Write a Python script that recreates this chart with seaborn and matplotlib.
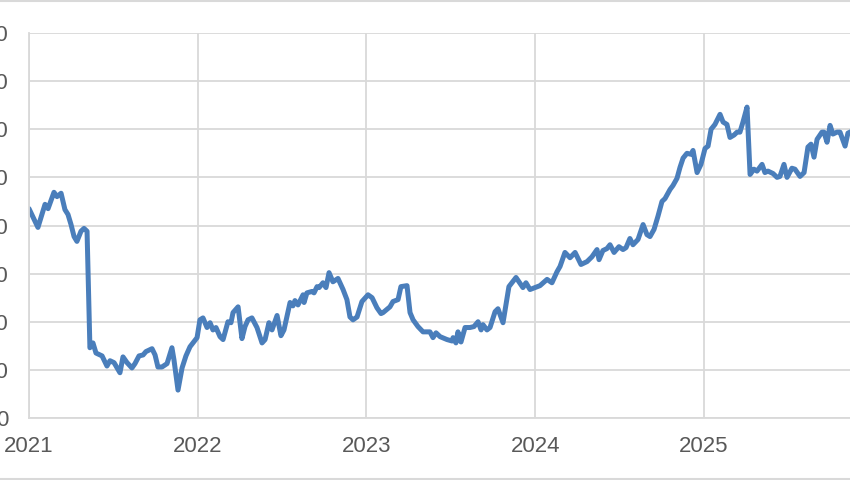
import pandas as pd
import matplotlib.pyplot as plt
import seaborn as sns
from matplotlib.patches import Rectangle

# Dados (ano decimal, valor)
anos = [
    2021.000, 2021.053, 2021.095, 2021.113, 2021.148, 2021.166, 2021.190, 2021.213, 2021.231, 2021.249,
    2021.267, 2021.284, 2021.308, 2021.326, 2021.344, 2021.361, 2021.379, 2021.397, 2021.433, 2021.462,
    2021.480, 2021.504, 2021.539, 2021.557, 2021.581, 2021.610, 2021.628, 2021.652, 2021.676, 2021.693,
    2021.729, 2021.747, 2021.764, 2021.788, 2021.818, 2021.847, 2021.859, 2021.883, 2021.907, 2021.930,
    2021.954, 2021.972, 2021.996, 2022.013, 2022.031, 2022.055, 2022.073, 2022.090, 2022.108, 2022.132,
    2022.150, 2022.179, 2022.197, 2022.209, 2022.239, 2022.262, 2022.280, 2022.298, 2022.321, 2022.351,
    2022.381, 2022.399, 2022.422, 2022.440, 2022.470, 2022.493, 2022.511, 2022.547, 2022.564, 2022.576,
    2022.594, 2022.624, 2022.630, 2022.647, 2022.677, 2022.689, 2022.707, 2022.719, 2022.742, 2022.760,
    2022.778, 2022.801, 2022.831, 2022.861, 2022.884, 2022.902, 2022.920, 2022.944, 2022.973, 2023.009,
    2023.033, 2023.062, 2023.086, 2023.098, 2023.139, 2023.157, 2023.187, 2023.204, 2023.240, 2023.258,
    2023.276, 2023.305, 2023.335, 2023.376, 2023.394, 2023.412, 2023.436, 2023.477, 2023.507, 2023.513,
    2023.530, 2023.542, 2023.560, 2023.584, 2023.613, 2023.637, 2023.661, 2023.679, 2023.690, 2023.714,
    2023.732, 2023.762, 2023.779, 2023.809, 2023.844, 2023.886, 2023.927, 2023.945, 2023.969, 2024.028,
    2024.070, 2024.099, 2024.129, 2024.147, 2024.176, 2024.206, 2024.236, 2024.271, 2024.307, 2024.336,
    2024.366, 2024.378, 2024.401, 2024.425, 2024.443, 2024.467, 2024.496, 2024.520, 2024.538, 2024.561,
    2024.579, 2024.609, 2024.639, 2024.662, 2024.680, 2024.704, 2024.727, 2024.751, 2024.769, 2024.799,
    2024.816, 2024.840, 2024.858, 2024.876, 2024.899, 2024.923, 2024.935, 2024.959, 2024.982, 2025.006,
    2025.024, 2025.042, 2025.065, 2025.095, 2025.113, 2025.136, 2025.154, 2025.178, 2025.196, 2025.213,
    2025.231, 2025.255, 2025.273, 2025.296, 2025.314, 2025.344, 2025.361, 2025.379, 2025.409, 2025.433,
    2025.450, 2025.474, 2025.492, 2025.521, 2025.539, 2025.569, 2025.593, 2025.616, 2025.634, 2025.652,
    2025.670, 2025.699, 2025.711, 2025.729, 2025.747, 2025.764, 2025.788, 2025.806, 2025.836, 2025.853,
    2025.877,
]
valores = [
    43.5, 39.6, 44.4, 43.5, 46.9, 46.0, 46.7, 43.3, 42.3, 40.2,
    37.7, 36.7, 38.8, 39.4, 38.8, 14.6, 15.6, 13.5, 12.9, 10.8,
    11.9, 11.5, 9.4, 12.7, 11.5, 10.4, 11.3, 12.9, 13.1, 13.8,
    14.4, 13.1, 10.6, 10.6, 11.3, 14.6, 12.1, 5.8, 10.4, 12.9,
    14.8, 15.6, 16.7, 20.4, 20.8, 18.8, 19.8, 18.3, 18.8, 16.9,
    16.3, 20.0, 19.8, 21.9, 23.1, 16.5, 19.0, 20.4, 20.8, 18.8,
    15.6, 16.3, 19.8, 18.3, 21.3, 17.1, 18.3, 24.0, 23.3, 24.4,
    23.5, 25.6, 24.0, 26.0, 26.3, 26.0, 27.3, 27.1, 28.1, 27.1,
    30.2, 28.3, 29.0, 26.7, 24.6, 21.0, 20.4, 21.0, 24.2, 25.6,
    25.0, 22.9, 21.7, 21.9, 23.1, 24.2, 24.6, 27.3, 27.5, 21.9,
    20.4, 19.0, 17.9, 17.9, 16.7, 17.7, 16.9, 16.3, 16.0, 16.7,
    15.6, 17.9, 15.8, 18.8, 18.8, 19.0, 20.0, 18.3, 19.4, 18.3,
    18.8, 22.1, 22.7, 19.8, 27.3, 29.2, 27.1, 28.1, 26.7, 27.5,
    28.8, 28.1, 30.4, 31.5, 34.4, 33.3, 34.4, 31.9, 32.5, 33.5,
    35.0, 32.9, 34.8, 35.2, 36.0, 34.4, 35.6, 35.0, 35.4, 37.3,
    36.0, 37.1, 40.2, 38.1, 37.7, 39.2, 41.9, 45.0, 45.6, 47.5,
    48.3, 49.8, 52.1, 54.0, 55.0, 54.8, 55.6, 51.0, 52.7, 56.0,
    56.5, 60.0, 61.0, 63.1, 61.5, 61.0, 58.3, 58.8, 59.4, 59.4,
    61.5, 64.6, 50.6, 51.7, 51.3, 52.7, 51.0, 51.3, 50.8, 50.0,
    50.2, 52.7, 50.0, 51.9, 51.7, 50.2, 51.0, 56.3, 56.9, 54.2,
    57.9, 59.4, 59.4, 57.3, 60.8, 59.0, 59.4, 59.4, 56.5, 59.2,
    59.6,
]
rotulos_x = [2021, 2022, 2023, 2024, 2025]
ticks_y = [0, 10, 20, 30, 40, 50, 60, 70, 80]

df = pd.DataFrame({'Ano': anos, 'Valor': valores})

# Configurações do gráfico
sns.set_theme(style='whitegrid')
plt.rcParams['font.family'] = ['Liberation Sans', 'DejaVu Sans']

cinza = '#d9d9d9'
fig = plt.figure(figsize=(8.5, 4.8), dpi=100)
ax = fig.add_axes([29 / 850, 62 / 480, 1 - 29 / 850, 385 / 480])

sns.lineplot(data=df, x='Ano', y='Valor', ax=ax, color='#4a7ebb', linewidth=3.6)

ax.set_xlim(2021, 2021 + 821 / 168.75)
ax.set_ylim(0, 80)
ax.set_xticks(rotulos_x)
ax.set_xticklabels([str(a) for a in rotulos_x])
ax.set_yticks(ticks_y)
ax.set_yticklabels([str(v) for v in ticks_y])
ax.set_xlabel('')
ax.set_ylabel('')

ax.grid(True, color=cinza, linewidth=1.3)
ax.set_facecolor('white')
for lado in ['top', 'right']:
    ax.spines[lado].set_visible(False)
for lado in ['left', 'bottom']:
    ax.spines[lado].set_color(cinza)
    ax.spines[lado].set_linewidth(1.3)

ax.tick_params(axis='x', length=0, pad=13, labelsize=16, labelcolor='#595959')
ax.tick_params(axis='y', length=0, pad=15, labelsize=16, labelcolor='#595959')

# Moldura cinza em cima e embaixo
fig.add_artist(Rectangle((-0.01, 0.002), 1.02, 0.996, transform=fig.transFigure,
                         fill=False, edgecolor=cinza, linewidth=1.5))

plt.savefig('out.png', dpi=100)
